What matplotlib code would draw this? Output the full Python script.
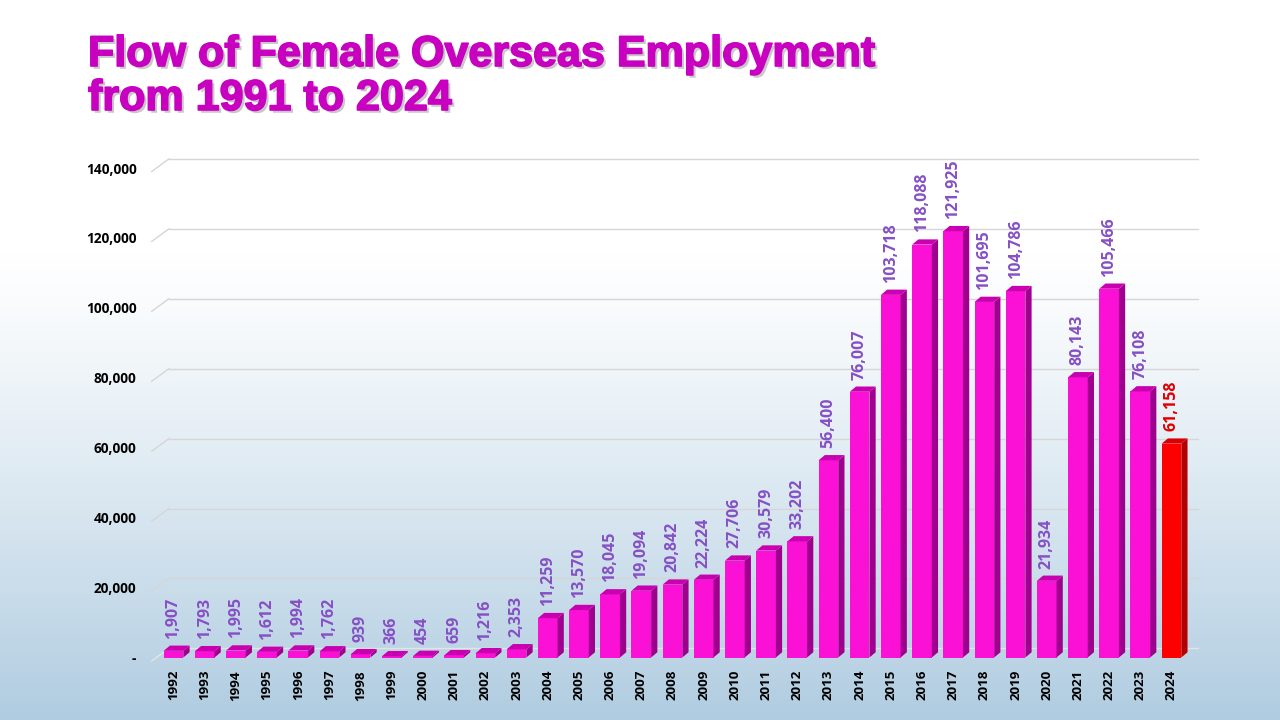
import numpy as np
import matplotlib.pyplot as plt
from matplotlib.patches import Polygon
from matplotlib import patheffects
from matplotlib.ticker import FuncFormatter
from matplotlib.transforms import ScaledTranslation

# --- data ---
years = [str(y) for y in range(1992, 2025)]
values = [1907, 1793, 1995, 1612, 1994, 1762, 939, 366, 454, 659, 1216, 2353,
          11259, 13570, 18045, 19094, 20842, 22224, 27706, 30579, 33202, 56400,
          76007, 103718, 118088, 121925, 101695, 104786, 21934, 80143, 105466,
          76108, 61158]
highlight_year = "2024"
y_ticks = list(range(0, 140001, 20000))

# --- styles ---
MAGENTA = {"front": "#fb10d6", "side": "#a0008e", "top": "#c800b0"}
RED = {"front": "#ff0000", "side": "#b30000", "top": "#d80000"}
LABEL_PURPLE = "#8550c4"
LABEL_RED = "#e00000"
TITLE_COLOR = "#c800c0"
FONT = "Open Sans"

BAR_W = 0.63
DEPTH_X = 0.2       # bar depth, in x units
DEPTH_Y = 1500      # bar depth, in value units
WALL_X = 0.55       # back wall offset for gridlines
WALL_Y = 2600
XLIM = (-0.7, 32.7)


def draw_background(fig):
    """Vertical gradient: white at top, light blue at the bottom."""
    bg = fig.add_axes([0, 0, 1, 1], zorder=-10)
    t = np.linspace(0, 1, 400)[:, None]          # 0 = top, 1 = bottom
    w = np.clip((t - 0.35) / 0.65, 0, 1) ** 1.2
    top = np.array([1.0, 1.0, 1.0])
    bottom = np.array([0.69, 0.80, 0.88])
    img = top * (1 - w[..., None]) + bottom * w[..., None]
    img = np.repeat(img, 2, axis=1)
    bg.imshow(img, aspect="auto", extent=[0, 1, 0, 1])
    bg.axis("off")


def draw_bar3d(ax, x, h, colors):
    x0, x1 = x - BAR_W / 2, x + BAR_W / 2
    ax.bar(x, h, width=BAR_W, color=colors["front"], zorder=3, linewidth=0)
    side = Polygon([(x1, 0), (x1 + DEPTH_X, DEPTH_Y), (x1 + DEPTH_X, h + DEPTH_Y), (x1, h)],
                   closed=True, facecolor=colors["side"], edgecolor="none", zorder=3)
    top = Polygon([(x0, h), (x0 + DEPTH_X, h + DEPTH_Y), (x1 + DEPTH_X, h + DEPTH_Y), (x1, h)],
                  closed=True, facecolor=colors["top"], edgecolor="none", zorder=4)
    ax.add_patch(side)
    ax.add_patch(top)


def main():
    fig = plt.figure(figsize=(12.8, 7.2), dpi=100)
    draw_background(fig)

    # axes placed so that value 0 sits at y=657.5px and 140,000 at y=168px
    ax = fig.add_axes([151.7 / 1280, 62.5 / 720, (1193.3 - 151.7) / 1280, 489.5 / 720])
    ax.set_facecolor("none")
    ax.set_xlim(*XLIM)
    ax.set_ylim(0, 140000)

    # gridlines on the back wall
    for v in y_ticks:
        col = "#d6d6d6" if v > 0 else "#e4e4e4"
        ax.plot([XLIM[0] + WALL_X, XLIM[1] + 0.15], [v + WALL_Y, v + WALL_Y],
                color=col, lw=1.0, zorder=1, clip_on=False)
        ax.plot([XLIM[0], XLIM[0] + WALL_X], [v - 1000, v + WALL_Y],
                color=col, lw=1.0, zorder=1, clip_on=False)

    xs = np.arange(len(years))
    for x, yr, v in zip(xs, years, values):
        colors = RED if yr == highlight_year else MAGENTA
        draw_bar3d(ax, x, v, colors)
        ax.annotate(f"{v:,}", (x, v + DEPTH_Y), xytext=(0, 5), textcoords="offset points",
                    rotation=90, ha="center", va="bottom", fontsize=11.5,
                    fontweight="bold", family=FONT,
                    color=LABEL_RED if yr == highlight_year else LABEL_PURPLE,
                    annotation_clip=False, zorder=5)

    ax.set_xticks(xs)
    ax.set_xticklabels(years, rotation=90, fontsize=9.6, fontweight="bold", family=FONT)
    ax.set_yticks(y_ticks)
    ax.yaxis.set_major_formatter(FuncFormatter(lambda v, _: "-" if v == 0 else f"{v:,.0f}"))
    shift = ScaledTranslation(0, -3 / 100, fig.dpi_scale_trans)
    for lab in ax.get_yticklabels():
        lab.set_fontweight("bold")
        lab.set_fontsize(9.8)
        lab.set_family(FONT)
        lab.set_transform(lab.get_transform() + shift)
    ax.tick_params(axis="both", length=0)
    ax.tick_params(axis="y", pad=11)
    ax.tick_params(axis="x", pad=9)
    for s in ax.spines.values():
        s.set_visible(False)

    effects = [patheffects.withSimplePatchShadow(offset=(2, -2), shadow_rgbFace="#777777", alpha=0.4),
               patheffects.withStroke(linewidth=1.2, foreground=TITLE_COLOR)]
    fig.text(88 / 1280, 1 - 66 / 720, "Flow of Female Overseas Employment", fontsize=31,
             fontweight="bold", family="Liberation Sans", color=TITLE_COLOR,
             ha="left", va="baseline", path_effects=effects)
    fig.text(88 / 1280, 1 - 110 / 720, "from 1991 to 2024", fontsize=31,
             fontweight="bold", family="Liberation Sans", color=TITLE_COLOR,
             ha="left", va="baseline", path_effects=effects)

    fig.savefig("out.png", dpi=100)
    plt.close(fig)


if __name__ == "__main__":
    main()
